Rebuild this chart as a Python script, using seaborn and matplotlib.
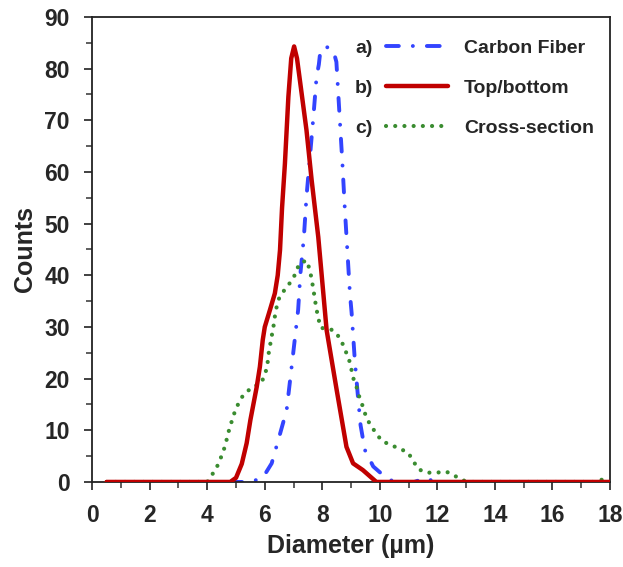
import matplotlib
matplotlib.use("Agg")
import matplotlib.pyplot as plt
import seaborn as sns
import numpy as np
import pandas as pd
from matplotlib.ticker import MultipleLocator

# ---- data ----
cf_x = [0.5, 5.5, 5.93, 6.24, 6.49, 6.76, 6.99, 7.16, 7.24, 7.36, 7.45, 7.57, 7.69, 7.8, 7.88,
        7.94, 8.15, 8.38, 8.49, 8.61, 8.7, 8.78, 8.87, 8.96, 9.02, 9.13, 9.24, 9.33, 9.48, 9.77,
        10.2, 10.5, 11.2, 11.6, 11.9, 18.0]
cf_y = [0, 0, 0.8, 3.6, 8.5, 13.9, 25, 33.3, 40.4, 47.4, 55.2, 62.9, 70.7, 78.4, 80.8,
        83.8, 84.2, 83.6, 81.3, 70, 61.6, 53.2, 44.9, 36.5, 32.7, 23.6, 16.5, 11, 6.2, 3,
        0.9, 0, 0, 0.8, 0, 0]

tb_x = [0.5, 4.8, 5.0, 5.2, 5.37, 5.5, 5.72, 5.83, 5.93, 6.0, 6.18, 6.35, 6.45, 6.53, 6.6,
        6.7, 6.82, 6.92, 7.02, 7.12, 7.22, 7.45, 7.63, 7.86, 8.15, 8.5, 8.84, 9.07, 9.41,
        9.88, 18.0]
tb_y = [0, 0, 0.8, 3.5, 7.5, 12, 18.4, 22.3, 27.5, 30, 33.3, 36.5, 40, 44.9, 53,
        61.6, 74.5, 82, 84.3, 82, 77.8, 68.1, 58.4, 47.4, 29.4, 17.8, 6.8, 3.6, 2.3,
        0, 0]

cs_x = [0.5, 4.0, 4.12, 4.32, 4.46, 4.58, 4.67, 4.76, 4.86, 4.97, 5.11, 5.25, 5.55, 5.87, 6.0,
        6.09, 6.12, 6.18, 6.24, 6.3, 6.35, 6.41, 6.5, 6.7, 6.9, 7.08, 7.19, 7.45, 7.57,
        7.63, 7.69, 7.74, 7.8, 7.86, 7.95, 8.24, 8.44, 8.65, 8.78, 8.92, 9.0, 9.07, 9.19,
        9.28, 9.39, 9.5, 9.65, 9.85, 10.06, 10.35, 10.67, 10.98, 11.16, 11.33, 11.62,
        11.97, 12.31, 12.6, 12.9, 13.1, 17.5, 17.8, 18.0]
cs_y = [0, 0, 1, 2.7, 4.5, 6.3, 8.1, 10.1, 11.9, 13.8, 15.5, 16.8, 18.3, 19.1, 20.7,
        22.5, 24.4, 26.3, 28.2, 30, 32, 33.8, 35.6, 37.3, 38.7, 40.4, 42.2, 42.9, 41,
        39.2, 37.3, 35.4, 33.4, 31.7, 29.8, 29.7, 29.1, 27.5, 25.7, 23.9, 22.1, 20.2, 18.4,
        16.6, 14.9, 13, 11.2, 9.6, 8, 7.2, 6.5, 5.7, 4.1, 2.5, 1.8,
        1.8, 2.0, 1.2, 0.3, 0, 0, 0.6, 0]

labels = ["Carbon Fiber", "Top/bottom", "Cross-section"]
prefixes = ["a)", "b)", "c)"]

# ---- style ----
sns.set_style("ticks")
plt.rcParams["font.family"] = ["Liberation Sans", "DejaVu Sans"]
plt.rcParams["font.weight"] = "bold"

fig = plt.figure(figsize=(6.23, 5.67), dpi=100)
ax = fig.add_axes([0.148, 0.150, 0.831, 0.820])

sns.lineplot(x=cf_x, y=cf_y, ax=ax, color="#3344ff", lw=2.8, sort=False,
             linestyle=(0, (3.3, 3.6, 0.01, 3.6)), dash_capstyle="round",
             label=labels[0], zorder=2)
sns.lineplot(x=tb_x, y=tb_y, ax=ax, color="#c00000", lw=3.2, sort=False,
             linestyle="-", label=labels[1], zorder=4)
sns.lineplot(x=cs_x, y=cs_y, ax=ax, color="#3a8c30", lw=3.0, sort=False,
             linestyle=(0, (0.01, 2.2)), dash_capstyle="round",
             label=labels[2], zorder=3)

ax.set_xlim(0, 18)
ax.set_ylim(0, 90)
ax.xaxis.set_major_locator(MultipleLocator(2))
ax.xaxis.set_minor_locator(MultipleLocator(1))
ax.yaxis.set_major_locator(MultipleLocator(10))
ax.yaxis.set_minor_locator(MultipleLocator(5))
ax.tick_params(axis="both", which="major", direction="out", length=6, width=1.3,
               labelsize=16.5, pad=10, color="#333333")
ax.tick_params(axis="both", which="minor", direction="out", length=4, width=1.1,
               color="#333333")
for lab in ax.get_xticklabels() + ax.get_yticklabels():
    lab.set_fontweight("bold")
for s in ["left", "right", "top", "bottom"]:
    ax.spines[s].set_visible(True)
    ax.spines[s].set_linewidth(1.3)
    ax.spines[s].set_color("#222222")

ax.set_xlabel("Diameter (µm)", fontsize=18, fontweight="bold", labelpad=5)
ax.set_ylabel("Counts", fontsize=18, fontweight="bold", labelpad=5)

leg = ax.legend(loc="upper left", bbox_to_anchor=(0.568, 0.952), frameon=False,
                fontsize=14, handlelength=3.2, handletextpad=0.8, labelspacing=1.15,
                borderpad=0, borderaxespad=0)
for t in leg.get_texts():
    t.set_fontweight("bold")

fig.canvas.draw()
inv = ax.transAxes.inverted()
for t, p in zip(leg.get_texts(), prefixes):
    bb = t.get_window_extent()
    yc = inv.transform(((bb.x0 + bb.x1) / 2, (bb.y0 + bb.y1) / 2))[1]
    ax.text(0.542, yc, p, transform=ax.transAxes, ha="right", va="center",
            fontsize=14, fontweight="bold")

fig.savefig("out.png", dpi=100)
